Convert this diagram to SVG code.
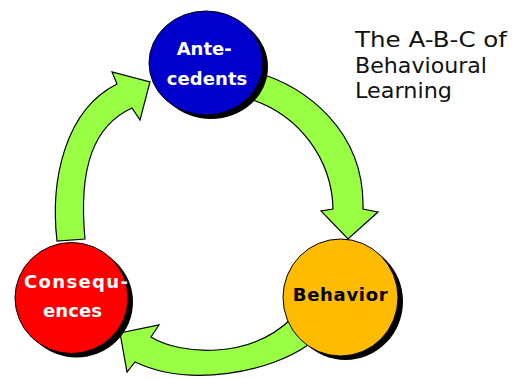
<svg xmlns="http://www.w3.org/2000/svg" width="518" height="379" viewBox="0 0 518 379">
<style>
.arrow{fill:#99ff44;stroke:#000;stroke-width:1.2;stroke-linejoin:miter}
.shadow{fill:#000}
.node{stroke:#000;stroke-width:1}
.lbl{font-family:"DejaVu Sans","Liberation Sans",sans-serif;font-weight:bold;font-size:18px}
.title{font-family:"DejaVu Sans","Liberation Sans",sans-serif;font-size:21px;fill:#111}
</style>
<rect width="518" height="379" fill="#fff"/>
<g id="connectors">
  <path id="arrow-ante-beh" class="arrow" d="M255,72 C305,86 365,130 363,209 L378,212 L348,239 L321,211 L333,209 C332,160 300,115 250,99 Z"/>
  <path id="arrow-beh-cons" class="arrow" d="M308,345 C270,372 190,388 135,362 L127,372 L120,333 L159,325 L151,337 C180,355 250,360 292,318 Z"/>
  <path id="arrow-cons-ante" class="arrow" d="M57,241 C50,180 65,110 117,84 L112,72 L150,82 L140,120 L132,108 C95,125 78,165 85,239 Z"/>
</g>
<g id="node-antecedents">
  <ellipse class="shadow" cx="211" cy="67" rx="57" ry="52"/>
  <ellipse class="node" cx="206" cy="63" rx="57" ry="52" fill="#0000cc"/>
  <text class="lbl" fill="#fff" x="176.7" y="55" textLength="55" lengthAdjust="spacing">Ante-</text>
  <text class="lbl" fill="#fff" x="166.7" y="85" textLength="80.6" lengthAdjust="spacing">cedents</text>
</g>
<g id="node-behavior">
  <ellipse class="shadow" cx="345.5" cy="301.5" rx="57.5" ry="58.5"/>
  <ellipse class="node" cx="340.5" cy="297.5" rx="57.5" ry="58.5" fill="#ffbb00"/>
  <text class="lbl" fill="#000" x="292.7" y="301" textLength="95" lengthAdjust="spacing">Behavior</text>
</g>
<g id="node-consequences">
  <ellipse class="shadow" cx="76.5" cy="302" rx="56.5" ry="55.5"/>
  <ellipse class="node" cx="71.5" cy="298" rx="56.5" ry="55.5" fill="#ff0000"/>
  <text class="lbl" fill="#fff" x="24" y="288" textLength="104" lengthAdjust="spacing">Consequ-</text>
  <text class="lbl" fill="#fff" x="43" y="317" textLength="59" lengthAdjust="spacing">ences</text>
</g>
<g id="title">
  <text class="title" x="355" y="47" textLength="152" lengthAdjust="spacingAndGlyphs">The A-B-C of</text>
  <text class="title" x="355" y="73" textLength="132" lengthAdjust="spacingAndGlyphs">Behavioural</text>
  <text class="title" x="355" y="98" textLength="97" lengthAdjust="spacingAndGlyphs">Learning</text>
</g>
</svg>
